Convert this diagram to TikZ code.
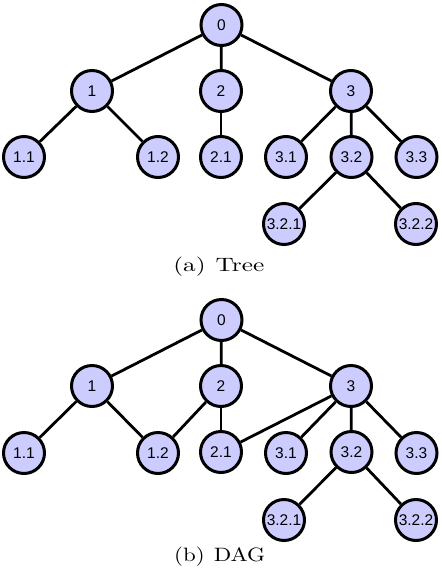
\documentclass[tikz,border=0pt]{standalone}
\usepackage{fontspec}
\usepackage{graphicx}
\newfontfamily\nodefont{Liberation Sans}
\begin{document}
\begin{tikzpicture}[x=1pt,y=-1pt,
  vtx/.style={circle,draw=black,line width=3pt,fill=blue!20,minimum size=41pt,inner sep=0pt,font=\nodefont\fontsize{15.5}{16}\selectfont},
  edge/.style={line width=2.8pt},
  captext/.style={inner sep=0pt}]
\useasboundingbox (0,0) rectangle (442,574);
% Tree
\node[vtx] (t0) at (221.5,25) {0};
\node[vtx] (t1) at (92,91) {1};
\node[vtx] (t2) at (221,91) {2};
\node[vtx] (t3) at (351,91) {3};
\node[vtx] (t11) at (24,157) {1.1};
\node[vtx] (t12) at (158,157) {1.2};
\node[vtx] (t21) at (221,157) {2.1};
\node[vtx] (t31) at (286,157) {3.1};
\node[vtx] (t32) at (351.5,157) {3.2};
\node[vtx] (t33) at (416.5,157) {3.3};
\node[vtx] (t321) at (284,224) {3.2.1};
\node[vtx] (t322) at (416,224) {3.2.2};
\draw[edge] (t0) -- (t1);
\draw[edge] (t0) -- (t2);
\draw[edge] (t0) -- (t3);
\draw[edge] (t1) -- (t11);
\draw[edge] (t1) -- (t12);
\draw[edge] (t2) -- (t21);
\draw[edge] (t3) -- (t31);
\draw[edge] (t3) -- (t32);
\draw[edge] (t3) -- (t33);
\draw[edge] (t32) -- (t321);
\draw[edge] (t32) -- (t322);
\node[captext] (ca) at (218.8,267) {\resizebox{91pt}{14.5pt}{(a)\hspace{0.4em}Tree}};
% DAG
\node[vtx] (d0) at (221.5,320) {0};
\node[vtx] (d1) at (92,386) {1};
\node[vtx] (d2) at (221,386) {2};
\node[vtx] (d3) at (351,386) {3};
\node[vtx] (d11) at (24,453) {1.1};
\node[vtx] (d12) at (158,453) {1.2};
\node[vtx] (d21) at (221,452) {2.1};
\node[vtx] (d31) at (286,453) {3.1};
\node[vtx] (d32) at (351.5,452) {3.2};
\node[vtx] (d33) at (416.5,453) {3.3};
\node[vtx] (d321) at (284,520) {3.2.1};
\node[vtx] (d322) at (416,520) {3.2.2};
\draw[edge] (d0) -- (d1);
\draw[edge] (d0) -- (d2);
\draw[edge] (d0) -- (d3);
\draw[edge] (d1) -- (d11);
\draw[edge] (d1) -- (d12);
\draw[edge] (d2) -- (d12);
\draw[edge] (d2) -- (d21);
\draw[edge] (d3) -- (d21);
\draw[edge] (d3) -- (d31);
\draw[edge] (d3) -- (d32);
\draw[edge] (d3) -- (d33);
\draw[edge] (d32) -- (d321);
\draw[edge] (d32) -- (d322);
\node[captext] (cb) at (219.7,556.7) {\resizebox{91pt}{14.5pt}{(b)\hspace{0.4em}DAG}};
\end{tikzpicture}
\end{document}
